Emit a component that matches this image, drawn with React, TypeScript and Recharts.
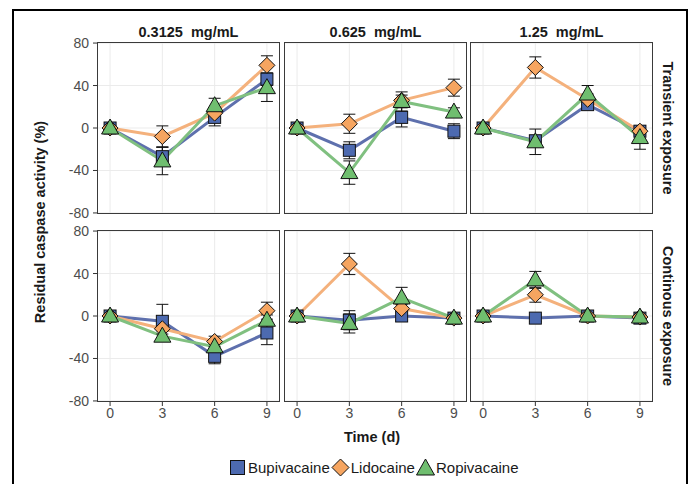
import { LineChart, Line, XAxis, YAxis, CartesianGrid, ErrorBar } from "recharts"

const times = [0, 3, 6, 9]
const concentrations = ["0.3125  mg/mL", "0.625  mg/mL", "1.25  mg/mL"]
const exposures = ["Transient exposure", "Continous exposure"]
const drugs = ["Bupivacaine", "Lidocaine", "Ropivacaine"]
const yTicks = [-80, -40, 0, 40, 80]

// [exposure][concentration][time]
const bupivacaine = [
  [[0, -27, 10, 46], [0, -21, 10, -3], [0, -12, 22, -3]],
  [[0, -5, -38, -16], [0, -4, 0, -2], [0, -2, 0, -2]],
]
const bupivacaineErr = [
  [[2, 9, 8, 6], [2, 8, 9, 7], [2, 5, 4, 3]],
  [[2, 16, 7, 11], [2, 9, 5, 3], [2, 3, 3, 3]],
]
const lidocaine = [
  [[0, -8, 14, 59], [0, 4, 26, 38], [0, 57, 27, -3]],
  [[0, -12, -24, 5], [0, 49, 7, -2], [0, 20, 0, -1]],
]
const lidocaineErr = [
  [[3, 10, 5, 9], [2, 9, 5, 8], [2, 10, 5, 4]],
  [[3, 5, 5, 8], [2, 10, 4, 2], [2, 7, 2, 2]],
]
const ropivacaine = [
  [[0, -31, 21, 38], [0, -42, 25, 15], [0, -13, 32, -9]],
  [[0, -19, -29, -4], [0, -7, 17, -2], [0, 34, 0, -1]],
]
const ropivacaineErr = [
  [[2, 13, 7, 13], [2, 11, 9, 4], [2, 12, 8, 11]],
  [[2, 5, 5, 5], [2, 9, 10, 3], [2, 8, 3, 2]],
]

const font = '"Liberation Sans", Arial, sans-serif'
const colors = { bup: "#4d6ab0", lid: "#f6a560", rop: "#6fbe6f" }
const lineColors = { bup: "#5e70ad", lid: "#f4b17c", rop: "#80c080" }

const colLeft = [97, 284, 470]
const rowTop = [42, 230]
const panelW = 183
const panelH = 172
const yAxisW = 45
const xAxisH = 24
const pad = 10 // room so the end tick labels are not clipped

const square = (fill: string) => (p: any) => {
  if (p.cx == null || p.cy == null) return <g key={p.index} />
  return <rect key={p.index} x={p.cx - 6} y={p.cy - 6} width={12} height={12} fill={fill} stroke="#111" strokeWidth={1} />
}
const diamond = (fill: string) => (p: any) => {
  if (p.cx == null || p.cy == null) return <g key={p.index} />
  const { cx, cy } = p
  return <polygon key={p.index} points={`${cx},${cy - 8} ${cx + 8},${cy} ${cx},${cy + 8} ${cx - 8},${cy}`} fill={fill} stroke="#111" strokeWidth={1} />
}
const triangle = (fill: string) => (p: any) => {
  if (p.cx == null || p.cy == null) return <g key={p.index} />
  const { cx, cy } = p
  return <polygon key={p.index} points={`${cx},${cy - 9} ${cx + 8.5},${cy + 6} ${cx - 8.5},${cy + 6}`} fill={fill} stroke="#111" strokeWidth={1} />
}

function Panel({ r, c }: { r: number; c: number }) {
  const showY = c === 0
  const showX = r === 1
  const data = times.map((t, i) => ({
    t,
    bup: bupivacaine[r][c][i],
    bupErr: bupivacaineErr[r][c][i],
    lid: lidocaine[r][c][i],
    lidErr: lidocaineErr[r][c][i],
    rop: ropivacaine[r][c][i],
    ropErr: ropivacaineErr[r][c][i],
  }))
  const left = colLeft[c] - (showY ? yAxisW : 0)
  const width = panelW + (showY ? yAxisW : 0)
  const height = panelH + pad + (showX ? xAxisH : pad)
  const tick = { fill: "#4d4d4d", fontSize: 14, fontFamily: font }
  return (
    <>
      <div style={{ position: "absolute", left, top: rowTop[r] - pad }}>
        <LineChart width={width} height={height} data={data} margin={{ top: pad, right: 0, bottom: showX ? 0 : pad, left: 0 }}>
          <CartesianGrid stroke="#ebebeb" strokeWidth={1} horizontalValues={yTicks} verticalValues={times} />
          <XAxis
            dataKey="t"
            type="number"
            domain={[-0.75, 9.75]}
            ticks={times}
            interval={0}
            allowDataOverflow
            hide={!showX}
            height={xAxisH}
            axisLine={false}
            tickLine={{ stroke: "#333" }}
            tickSize={4}
            tick={tick}
          />
          <YAxis
            type="number"
            domain={[-81, 81]}
            ticks={yTicks}
            interval={0}
            allowDataOverflow
            hide={!showY}
            width={yAxisW}
            axisLine={false}
            tickLine={{ stroke: "#333" }}
            tickSize={4}
            tickMargin={4}
            tick={tick}
          />
          <Line dataKey="bup" stroke={lineColors.bup} strokeWidth={3} dot={false} activeDot={false} isAnimationActive={false} />
          <Line dataKey="lid" stroke={lineColors.lid} strokeWidth={3} dot={false} activeDot={false} isAnimationActive={false} />
          <Line dataKey="rop" stroke={lineColors.rop} strokeWidth={3} dot={false} activeDot={false} isAnimationActive={false} />
          <Line dataKey="bup" stroke="none" dot={square(colors.bup)} activeDot={false} isAnimationActive={false}>
            <ErrorBar dataKey="bupErr" width={6} stroke="#111" strokeWidth={1} direction="y" />
          </Line>
          <Line dataKey="lid" stroke="none" dot={diamond(colors.lid)} activeDot={false} isAnimationActive={false}>
            <ErrorBar dataKey="lidErr" width={6} stroke="#111" strokeWidth={1} direction="y" />
          </Line>
          <Line dataKey="rop" stroke="none" dot={triangle(colors.rop)} activeDot={false} isAnimationActive={false}>
            <ErrorBar dataKey="ropErr" width={6} stroke="#111" strokeWidth={1} direction="y" />
          </Line>
        </LineChart>
      </div>
      <div
        style={{
          position: "absolute",
          left: colLeft[c],
          top: rowTop[r],
          width: panelW,
          height: panelH,
          boxSizing: "border-box",
          border: "1px solid #3a3a3a",
          pointerEvents: "none",
        }}
      />
    </>
  )
}

const bold = { fontFamily: font, fontWeight: 700, fontSize: 14.5, color: "#1a1a1a", whiteSpace: "pre" as const }

export default function App() {
  return (
    <div style={{ position: "absolute", left: 0, top: 0, width: 691, height: 484, background: "#fff", overflow: "hidden" }}>
      <div style={{ position: "absolute", left: 12, top: 9, width: 676, height: 490, border: "2px solid #000", boxSizing: "border-box" }} />
      {concentrations.map((label, c) => (
        <div key={label} style={{ ...bold, position: "absolute", left: colLeft[c], top: 24, width: panelW, textAlign: "center", lineHeight: "16px" }}>
          {label}
        </div>
      ))}
      {exposures.map((label, r) => (
        <div
          key={label}
          style={{
            ...bold,
            position: "absolute",
            left: 668 - 100,
            top: rowTop[r] + panelH / 2 - 8,
            width: 200,
            textAlign: "center",
            lineHeight: "16px",
            transform: "rotate(90deg)",
          }}
        >
          {label}
        </div>
      ))}
      <div
        style={{
          ...bold,
          position: "absolute",
          left: 40 - 120,
          top: 222 - 8,
          width: 240,
          textAlign: "center",
          lineHeight: "16px",
          transform: "rotate(-90deg)",
        }}
      >
        Residual caspase activity (%)
      </div>
      <div style={{ ...bold, position: "absolute", left: 272, top: 429, width: 200, textAlign: "center", lineHeight: "16px" }}>Time (d)</div>
      {[0, 1].map((r) => [0, 1, 2].map((c) => <Panel key={`${r}-${c}`} r={r} c={c} />))}
      <div style={{ position: "absolute", left: 228, top: 458, display: "flex", alignItems: "center", fontFamily: font, fontSize: 15, color: "#1a1a1a" }}>
        {drugs.map((d, i) => (
          <div key={d} style={{ display: "flex", alignItems: "center" }}>
            <svg width={19} height={19}>
              {i === 0 && <rect x={2.5} y={2.5} width={14} height={14} fill={colors.bup} stroke="#111" />}
              {i === 1 && <polygon points="9.5,1 18,9.5 9.5,18 1,9.5" fill={colors.lid} stroke="#111" />}
              {i === 2 && <polygon points="9.5,1 18.5,17 0.5,17" fill={colors.rop} stroke="#111" />}
            </svg>
            <span style={{ marginLeft: 1, marginRight: 1 }}>{d}</span>
          </div>
        ))}
      </div>
    </div>
  )
}
